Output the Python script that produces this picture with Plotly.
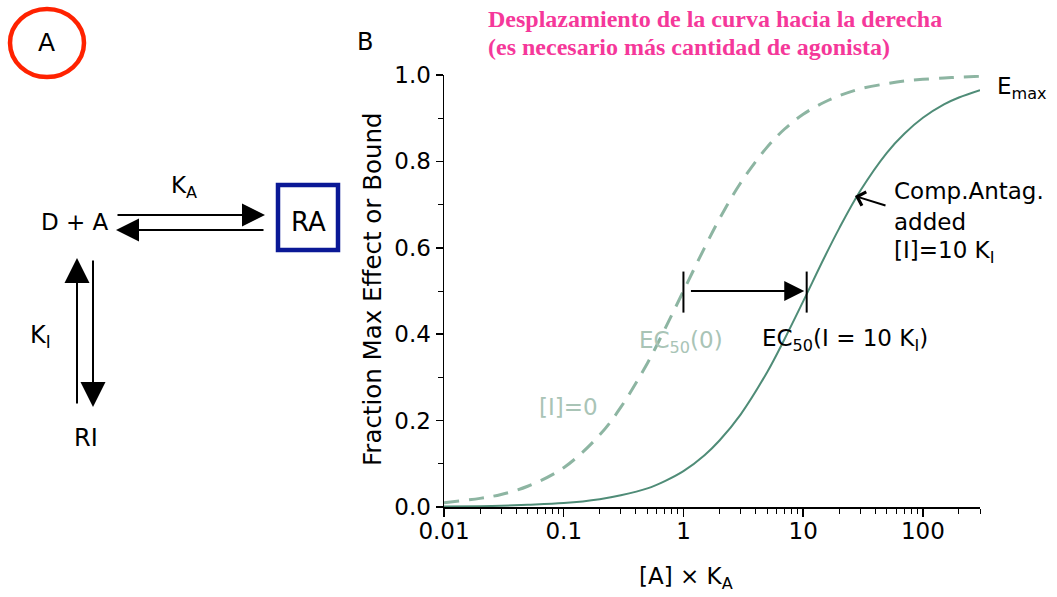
import numpy as np
import plotly.graph_objects as go

# ---- data ----
conc = [0.01, 0.02, 0.03, 0.05, 0.1, 0.2, 0.3, 0.5, 0.7, 1, 1.5, 2, 3, 5, 7,
        10, 15, 20, 30, 50, 70, 100, 150, 200, 300]
resp_control = [0.010, 0.020, 0.029, 0.048, 0.091, 0.167, 0.231, 0.333, 0.412, 0.500,
                0.600, 0.667, 0.750, 0.833, 0.875, 0.909, 0.937, 0.952, 0.968, 0.980,
                0.986, 0.990, 0.993, 0.995, 0.997]
resp_antag = [0.001, 0.002, 0.003, 0.005, 0.009, 0.018, 0.027, 0.043, 0.060, 0.083,
              0.120, 0.154, 0.214, 0.312, 0.389, 0.476, 0.577, 0.645, 0.732, 0.820,
              0.864, 0.901, 0.932, 0.948, 0.965]
ec50_values = [1, 10.7]
x_tickvals = [0.01, 0.1, 1, 10, 100]
x_ticktext = ["0.01", "0.1", "1", "10", "100"]
y_tickvals = [0, 0.2, 0.4, 0.6, 0.8, 1.0]

SOLID = "#4f8c77"
DASH = "#8db5a2"
LIGHT = "#a9c4b6"
FONT = "DejaVu Sans"

W, H = 1057, 597
L, R, T, B = 444, 980, 75, 507   # plot area in screen pixels


def px(x):
    return (x - L) / (R - L)


def py(y):
    return (B - y) / (B - T)


fig = go.Figure()
fig.add_trace(go.Scatter(x=conc, y=resp_control, mode="lines", line_shape="spline",
                         line=dict(color=DASH, width=3, dash="15px,10px"),
                         cliponaxis=False, showlegend=False, hoverinfo="skip"))
fig.add_trace(go.Scatter(x=conc, y=resp_antag, mode="lines", line_shape="spline",
                         line=dict(color=SOLID, width=2),
                         cliponaxis=False, showlegend=False, hoverinfo="skip"))

ann = []
shapes = []


def text(x, y, s, size=23, color="black", xanchor="center", family=FONT, **kw):
    ann.append(dict(x=px(x), y=py(y), xref="paper", yref="paper", text=s,
                    showarrow=False, xanchor=xanchor, yanchor="middle",
                    font=dict(size=size, color=color, family=family), **kw))


def arrow(x_tip, y_tip, x_tail, y_tail, head=2, size=2.3, width=2, color="black"):
    ann.append(dict(x=px(x_tip), y=py(y_tip), xref="paper", yref="paper", text="",
                    showarrow=True, ax=x_tail - x_tip, ay=y_tail - y_tip,
                    arrowhead=head, arrowsize=size, arrowwidth=width,
                    arrowcolor=color, standoff=0))


def box(x0, y0, x1, y1, kind, color, width):
    shapes.append(dict(type=kind, xref="paper", yref="paper",
                       x0=px(x0), x1=px(x1), y0=py(y1), y1=py(y0),
                       line=dict(color=color, width=width)))


# Panel A
box(10, 9, 84, 77, "circle", "#ff2200", 4.5)
text(46, 43, "A", size=25)
text(75, 222, "D + A", size=23)
text(184, 187, "K<sub>A</sub>", size=23)
box(278, 185, 338, 250, "rect", "#0a1896", 4.5)
text(308, 222, "RA", size=26)
arrow(265, 215, 116, 215)
arrow(116, 230, 265, 230)
arrow(77, 258, 77, 405, size=2.5)
arrow(93, 407, 93, 259, size=2.5)
text(40, 337, "K<sub>I</sub>", size=24)
text(86, 438, "RI", size=24)

# Panel B labels
text(365, 42, "B", size=24)
text(486, 19, "Desplazamiento de la curva hacia la derecha", size=24,
     color="#f5389a", xanchor="left", family="Liberation Serif, serif")
text(486, 47, "(es necesario más cantidad de agonista)", size=24,
     color="#f5389a", xanchor="left", family="Liberation Serif, serif")
ann[-1]["font"]["weight"] = "bold"
ann[-2]["font"]["weight"] = "bold"

text(372, 289, "Fraction Max Effect or Bound", size=24.5, textangle=-90)
text(686, 578, "[A] × K<sub>A</sub>", size=23)
text(995, 88, "E<sub>max</sub>", size=23, xanchor="left")
text(892, 191, "Comp.Antag.", size=23, xanchor="left")
text(892, 222, "added", size=23, xanchor="left")
text(892, 252, "[I]=10 K<sub>I</sub>", size=23, xanchor="left")
arrow(855, 196, 887, 206, head=4, size=1.4, width=2)
text(637, 342, "EC<sub>50</sub>(0)", size=23, color=LIGHT, xanchor="left")
text(760, 340, "EC<sub>50</sub>(I = 10 K<sub>I</sub>)", size=23, xanchor="left")
text(568, 407, "[I]=0", size=23, color=LIGHT)

# EC50 markers (shapes on a log axis take data values)
for v in ec50_values:
    shapes.append(dict(type="line", xref="x", yref="y", layer="above",
                       x0=v, x1=v, y0=0.45, y1=0.545,
                       line=dict(color="black", width=2)))
ann.append(dict(x=np.log10(ec50_values[1]) - 0.02, y=0.5, xref="x", yref="y",
                ax=np.log10(ec50_values[0]) + 0.05, ay=0.5, axref="x", ayref="y",
                text="", showarrow=True, arrowhead=2, arrowsize=2,
                arrowwidth=2, arrowcolor="black", standoff=0))

fig.update_layout(
    width=W, height=H,
    margin=dict(l=L, r=W - R, t=T, b=H - B),
    plot_bgcolor="white", paper_bgcolor="white",
    font=dict(family=FONT, size=23, color="black"),
    annotations=ann, shapes=shapes, hovermode=False,
    xaxis=dict(type="log", range=[-2, np.log10(300)], tickvals=x_tickvals,
               ticktext=x_ticktext, ticks="outside", ticklen=8, tickwidth=1.5,
               tickcolor="black", showline=True, linecolor="black", linewidth=1.5,
               showgrid=False, zeroline=False, tickfont=dict(size=23),
               ticklabelstandoff=-5,
               minor=dict(ticks="outside", ticklen=5, tickwidth=1, tickcolor="black",
                          dtick="D1", showgrid=False)),
    yaxis=dict(range=[0, 1], tickvals=y_tickvals, tickformat=".1f", ticks="outside",
               ticklen=7, tickwidth=1.5, tickcolor="black", showline=True,
               linecolor="black", linewidth=1.5, showgrid=False, zeroline=False,
               tickfont=dict(size=23),
               minor=dict(ticks="outside", ticklen=5, tickwidth=1, tickcolor="black",
                          dtick=0.1, showgrid=False)),
)

# remove the default 8px page margin so the figure fills the window exactly
fig.write_html("out.html",
               config={"displayModeBar": False, "staticPlot": True},
               post_script="document.body.style.margin='0px';"
                           "document.body.style.overflow='hidden';")
